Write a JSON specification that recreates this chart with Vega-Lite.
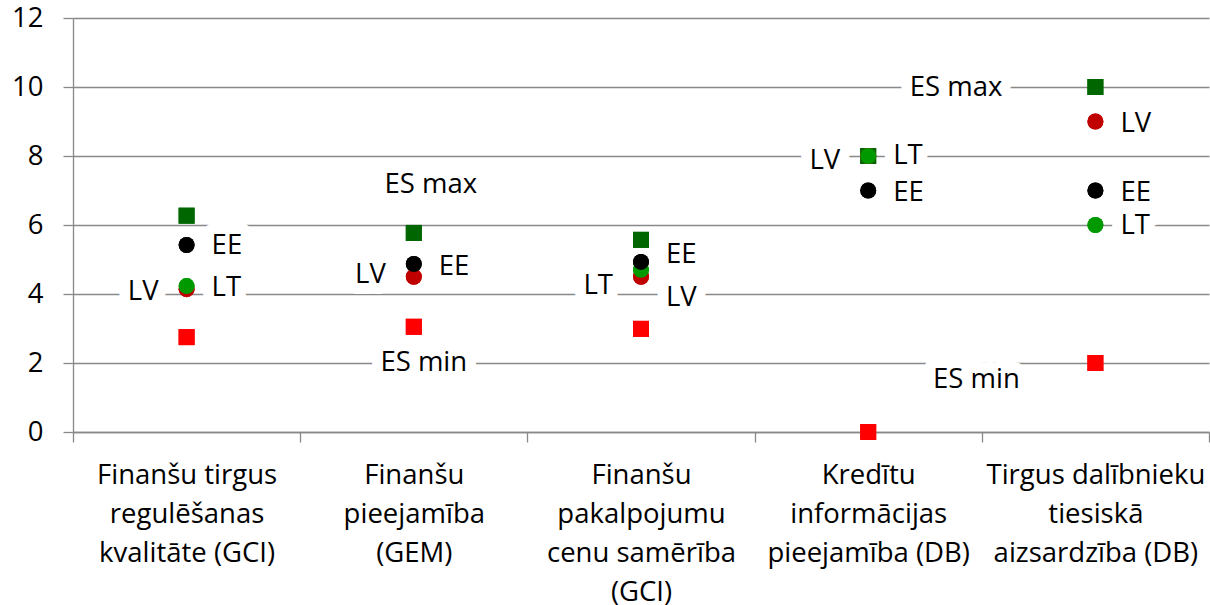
{
  "$schema": "https://vega.github.io/schema/vega-lite/v6.json",
  "autosize": "none",
  "width": 1136,
  "height": 414,
  "padding": {"left": 73, "top": 18, "right": 1, "bottom": 173},
  "background": "white",
  "config": {"font": "Open Sans", "view": {"stroke": null}},
  "datasets": {
    "points": [
      {"cat": "Finanšu tirgus regulēšanas kvalitāte (GCI)", "series": "ES max", "value": 6.27},
      {"cat": "Finanšu tirgus regulēšanas kvalitāte (GCI)", "series": "ES min", "value": 2.75},
      {"cat": "Finanšu tirgus regulēšanas kvalitāte (GCI)", "series": "LV", "value": 4.14},
      {"cat": "Finanšu tirgus regulēšanas kvalitāte (GCI)", "series": "LT", "value": 4.23},
      {"cat": "Finanšu tirgus regulēšanas kvalitāte (GCI)", "series": "EE", "value": 5.42},
      {"cat": "Finanšu pieejamība (GEM)", "series": "ES max", "value": 5.77},
      {"cat": "Finanšu pieejamība (GEM)", "series": "ES min", "value": 3.05},
      {"cat": "Finanšu pieejamība (GEM)", "series": "LV", "value": 4.5},
      {"cat": "Finanšu pieejamība (GEM)", "series": "EE", "value": 4.87},
      {"cat": "Finanšu pakalpojumu cenu samērība (GCI)", "series": "ES max", "value": 5.57},
      {"cat": "Finanšu pakalpojumu cenu samērība (GCI)", "series": "ES min", "value": 2.99},
      {"cat": "Finanšu pakalpojumu cenu samērība (GCI)", "series": "LV", "value": 4.5},
      {"cat": "Finanšu pakalpojumu cenu samērība (GCI)", "series": "LT", "value": 4.7},
      {"cat": "Finanšu pakalpojumu cenu samērība (GCI)", "series": "EE", "value": 4.93},
      {"cat": "Kredītu informācijas pieejamība (DB)", "series": "ES max", "value": 8},
      {"cat": "Kredītu informācijas pieejamība (DB)", "series": "ES min", "value": 0},
      {"cat": "Kredītu informācijas pieejamība (DB)", "series": "LV", "value": 8},
      {"cat": "Kredītu informācijas pieejamība (DB)", "series": "LT", "value": 8},
      {"cat": "Kredītu informācijas pieejamība (DB)", "series": "EE", "value": 7},
      {"cat": "Tirgus dalībnieku tiesiskā aizsardzība (DB)", "series": "ES max", "value": 10},
      {"cat": "Tirgus dalībnieku tiesiskā aizsardzība (DB)", "series": "ES min", "value": 2},
      {"cat": "Tirgus dalībnieku tiesiskā aizsardzība (DB)", "series": "LV", "value": 9},
      {"cat": "Tirgus dalībnieku tiesiskā aizsardzība (DB)", "series": "LT", "value": 6},
      {"cat": "Tirgus dalībnieku tiesiskā aizsardzība (DB)", "series": "EE", "value": 7}
    ],
    "labels": [
      {"cat": "Finanšu tirgus regulēšanas kvalitāte (GCI)", "label": "EE", "pos": 5.38, "side": "right"},
      {"cat": "Finanšu tirgus regulēšanas kvalitāte (GCI)", "label": "LT", "pos": 4.17, "side": "right"},
      {"cat": "Finanšu tirgus regulēšanas kvalitāte (GCI)", "label": "LV", "pos": 4.06, "side": "left"},
      {"cat": "Finanšu pieejamība (GEM)", "label": "ES max", "pos": 7.17, "side": "above"},
      {"cat": "Finanšu pieejamība (GEM)", "label": "EE", "pos": 4.78, "side": "right"},
      {"cat": "Finanšu pieejamība (GEM)", "label": "LV", "pos": 4.54, "side": "left"},
      {"cat": "Finanšu pieejamība (GEM)", "label": "ES min", "pos": 2.0, "side": "below"},
      {"cat": "Finanšu pakalpojumu cenu samērība (GCI)", "label": "EE", "pos": 5.13, "side": "right"},
      {"cat": "Finanšu pakalpojumu cenu samērība (GCI)", "label": "LT", "pos": 4.23, "side": "left"},
      {"cat": "Finanšu pakalpojumu cenu samērība (GCI)", "label": "LV", "pos": 3.87, "side": "right"},
      {"cat": "Kredītu informācijas pieejamība (DB)", "label": "LV", "pos": 7.86, "side": "left"},
      {"cat": "Kredītu informācijas pieejamība (DB)", "label": "LT", "pos": 7.99, "side": "right"},
      {"cat": "Kredītu informācijas pieejamība (DB)", "label": "EE", "pos": 6.94, "side": "right"},
      {"cat": "Tirgus dalībnieku tiesiskā aizsardzība (DB)", "label": "ES max", "pos": 9.96, "side": "farleft"},
      {"cat": "Tirgus dalībnieku tiesiskā aizsardzība (DB)", "label": "LV", "pos": 8.93, "side": "right"},
      {"cat": "Tirgus dalībnieku tiesiskā aizsardzība (DB)", "label": "EE", "pos": 6.94, "side": "right"},
      {"cat": "Tirgus dalībnieku tiesiskā aizsardzība (DB)", "label": "LT", "pos": 5.97, "side": "right"},
      {"cat": "Tirgus dalībnieku tiesiskā aizsardzība (DB)", "label": "ES min", "pos": 1.51, "side": "lowleft"}
    ]
  },
  "encoding": {
    "x": {
      "field": "cat",
      "type": "nominal",
      "sort": null,
      "scale": {
        "domain": [
          "Finanšu tirgus regulēšanas kvalitāte (GCI)",
          "Finanšu pieejamība (GEM)",
          "Finanšu pakalpojumu cenu samērība (GCI)",
          "Kredītu informācijas pieejamība (DB)",
          "Tirgus dalībnieku tiesiskā aizsardzība (DB)"
        ],
        "paddingInner": 0,
        "paddingOuter": 0
      },
      "axis": {
        "title": null,
        "labelAngle": 0,
        "tickBand": "extent",
        "tickSize": 10,
        "tickColor": "#898989",
        "tickWidth": 1.3,
        "domainColor": "#898989",
        "domainWidth": 1.3,
        "labelFontSize": 27.5,
        "labelColor": "#000000",
        "labelLineHeight": 39,
        "labelPadding": 19,
        "labelLimit": 0,
        "labelOverlap": false,
        "grid": false,
        "labelExpr": "datum.extra ? '' : datum.value == 'Finanšu tirgus regulēšanas kvalitāte (GCI)' ? ['Finanšu tirgus', 'regulēšanas', 'kvalitāte (GCI)'] : datum.value == 'Finanšu pieejamība (GEM)' ? ['Finanšu', 'pieejamība', '(GEM)'] : datum.value == 'Finanšu pakalpojumu cenu samērība (GCI)' ? ['Finanšu', 'pakalpojumu', 'cenu samērība', '(GCI)'] : datum.value == 'Kredītu informācijas pieejamība (DB)' ? ['Kredītu', 'informācijas', 'pieejamība (DB)'] : ['Tirgus dalībnieku', 'tiesiskā', 'aizsardzība (DB)']"
      }
    }
  },
  "layer": [
    {
      "data": {"name": "points"},
      "mark": {"type": "point", "filled": true, "opacity": 1, "strokeWidth": 0},
      "encoding": {
        "y": {
          "field": "value",
          "type": "quantitative",
          "scale": {"domain": [0, 12], "nice": false, "zero": true},
          "axis": {
            "title": null,
            "values": [0, 2, 4, 6, 8, 10, 12],
            "grid": true,
            "gridColor": "#898989",
            "gridWidth": 1.3,
            "tickSize": 10,
            "tickColor": "#898989",
            "tickWidth": 1.3,
            "domainColor": "#898989",
            "domainWidth": 1.3,
            "labelFontSize": 27.5,
            "labelColor": "#000000",
            "labelPadding": 20
          }
        },
        "color": {
          "field": "series",
          "type": "nominal",
          "scale": {"domain": ["ES max", "ES min", "LV", "LT", "EE"], "range": ["#006600", "#ff0000", "#c00000", "#009900", "#000000"]},
          "legend": null
        },
        "shape": {
          "field": "series",
          "type": "nominal",
          "scale": {"domain": ["ES max", "ES min", "LV", "LT", "EE"], "range": ["square", "square", "circle", "circle", "circle"]},
          "legend": null
        },
        "size": {
          "field": "series",
          "type": "nominal",
          "scale": {"domain": ["ES max", "ES min", "LV", "LT", "EE"], "range": [256, 256, 210, 210, 210]},
          "legend": null
        }
      }
    },
    {
      "data": {"name": "labels"},
      "mark": {
        "type": "text",
        "fontSize": 27.5,
        "fill": "white",
        "stroke": "white",
        "strokeWidth": 22,
        "strokeJoin": "round",
        "baseline": "middle",
        "align": {"expr": "datum.side == 'right' ? 'left' : (datum.side == 'above' || datum.side == 'below' || datum.side == 'lowleft') ? 'center' : 'right'"},
        "dx": {"expr": "datum.side == 'right' ? 25 : datum.side == 'left' ? -28 : datum.side == 'above' ? 17 : datum.side == 'below' ? 10 : datum.side == 'farleft' ? -93 : -119"}
      },
      "encoding": {
        "y": {"field": "pos", "type": "quantitative"},
        "text": {"field": "label"}
      }
    },
    {
      "data": {"name": "points"},
      "mark": {"type": "point", "filled": true, "opacity": 1, "strokeWidth": 0},
      "encoding": {
        "y": {"field": "value", "type": "quantitative"},
        "color": {"field": "series", "type": "nominal", "legend": null},
        "shape": {"field": "series", "type": "nominal", "legend": null},
        "size": {"field": "series", "type": "nominal", "legend": null}
      }
    },
    {
      "data": {"name": "labels"},
      "mark": {
        "type": "text",
        "fontSize": 27.5,
        "fill": "black",
        "baseline": "middle",
        "align": {"expr": "datum.side == 'right' ? 'left' : (datum.side == 'above' || datum.side == 'below' || datum.side == 'lowleft') ? 'center' : 'right'"},
        "dx": {"expr": "datum.side == 'right' ? 25 : datum.side == 'left' ? -28 : datum.side == 'above' ? 17 : datum.side == 'below' ? 10 : datum.side == 'farleft' ? -93 : -119"}
      },
      "encoding": {
        "y": {"field": "pos", "type": "quantitative"},
        "text": {"field": "label"}
      }
    }
  ]
}
